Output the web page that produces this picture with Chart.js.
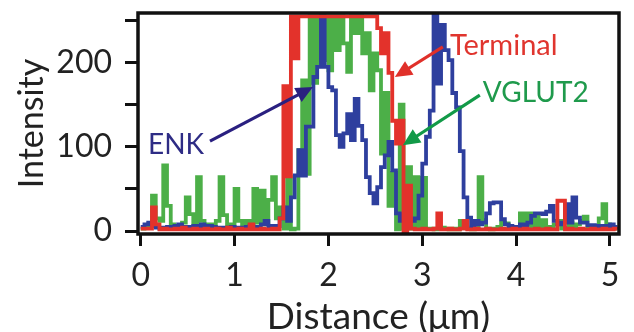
<!DOCTYPE html>
<html><head><meta charset="utf-8">
<script src="https://cdn.jsdelivr.net/npm/chart.js@4"></script>
<style>html,body{margin:0;padding:0;background:#fff}#wrap{width:634px;height:332px}</style>
</head><body><div id="wrap"><canvas id="c" width="634" height="332"></canvas></div>
<script>
// Distance sampling grid (µm)
const distance = [0,0.04,0.08,0.12,0.16,0.2,0.24,0.28,0.32,0.36,
0.4,0.44,0.48,0.52,0.56,0.6,0.64,0.68,0.72,0.76,
0.8,0.84,0.88,0.92,0.96,1,1.04,1.08,1.12,1.16,
1.2,1.24,1.28,1.32,1.36,1.4,1.44,1.48,1.52,1.56,
1.6,1.64,1.68,1.72,1.76,1.8,1.84,1.88,1.92,1.96,
2,2.04,2.08,2.12,2.16,2.2,2.24,2.28,2.32,2.36,
2.4,2.44,2.48,2.52,2.56,2.6,2.64,2.68,2.72,2.76,
2.8,2.84,2.88,2.92,2.96,3,3.04,3.08,3.12,3.16,
3.2,3.24,3.28,3.32,3.36,3.4,3.44,3.48,3.52,3.56,
3.6,3.64,3.68,3.72,3.76,3.8,3.84,3.88,3.92,3.96,
4,4.04,4.08,4.12,4.16,4.2,4.24,4.28,4.32,4.36,
4.4,4.44,4.48,4.52,4.56,4.6,4.64,4.68,4.72,4.76,
4.8,4.84,4.88,4.92,4.96,5,5.04,5.08];

// Terminal (red) intensity
const terminal = [3,3,3,28,8,2,3,2,2,3,
2,4,2,2,3,2,2,3,2,2,
3,2,2,4,2,2,3,2,2,8,
2,2,3,2,2,3,2,15,172,65,
255,205,255,255,255,255,255,255,255,255,
255,255,255,255,255,255,255,255,255,255,
255,255,255,241,211,235,188,131,104,131,
0,54,3,2,2,3,2,2,3,21,
2,2,3,2,2,3,12,2,2,3,
2,2,3,2,2,2,3,2,2,3,
2,2,3,2,2,3,2,2,3,2,
2,36,36,2,3,2,2,3,2,2,
3,2,2,3,2,2,3,2];

// ENK (blue) intensity
const enk = [5,8,10,6,4,3,4,5,4,6,
8,5,4,5,6,4,8,5,6,5,
4,3,4,3,5,4,3,4,5,6,
4,5,8,12,6,4,6,15,28,12,
40,66,96,66,124,124,183,195,255,195,
171,167,114,100,116,139,108,157,125,108,
64,45,33,52,76,90,106,72,21,12,
20,15,12,15,42,80,112,143,259,175,
245,215,203,164,147,95,40,16,5,12,
8,10,21,33,34,34,14,8,6,4,
5,8,6,10,18,21,21,20,23,30,
12,8,10,32,10,40,16,10,10,7,
7,6,5,6,6,8,5,5];

// VGLUT2 (green) intensity
const vglut2 = [3,5,8,42,15,12,78,30,8,5,
5,10,40,20,8,64,12,8,6,8,
12,64,19,8,5,50,12,8,12,5,
50,10,48,8,37,64,15,28,3,64,
2,3,96,179,68,255,176,255,203,255,
191,255,215,255,223,189,255,235,255,211,
235,167,211,191,92,164,30,69,2,150,
3,76,3,64,5,63,3,3,2,3,
4,3,2,3,2,12,5,3,2,3,
64,13,3,2,3,5,10,9,4,3,
5,21,8,21,5,17,4,13,5,5,
8,12,3,4,10,5,8,12,17,5,
3,4,15,32,8,3,3,3];

const xTicks = [0,1,2,3,4,5];
const yTicks = [0,50,100,150,200,250];
const yTickLabels = ['0','','100','','200',''];

const RED = '#e3322b', BLUE = '#2e3f9e', GREEN = '#4caf48';
const FONT = "'Lato', 'DejaVu Sans', sans-serif";

// annotation texts and arrows, in data units
const notes = [
  {text:'ENK', x:0.376, y:102, color:'#2e2c85', align:'center', size:28},
  {text:'Terminal', x:3.294, y:220, color:'#e0352e', align:'left', size:29},
  {text:'VGLUT2', x:3.645, y:164, color:'#1f9a4c', align:'left', size:28}
];
const arrows = [
  {x0:0.738, y0:106.8, x1:1.835, y1:171, color:'#2a2080'},
  {x0:3.219, y0:218.7, x1:2.708, y1:183, color:'#e0302a'},
  {x0:3.613, y0:161.5, x1:2.793, y1:102, color:'#129a48'}
];

const pts = arr => arr.map((v,i)=>({x:distance[i], y:v}));

const overlay = {
  id:'overlay',
  afterDatasetsDraw(chart){
    const {ctx, chartArea:a, scales:{x,y}} = chart;
    ctx.save();
    ctx.strokeStyle = '#111'; ctx.lineWidth = 3.5;
    ctx.strokeRect(a.left, a.top, a.right-a.left, a.bottom-a.top);
    arrows.forEach(ar=>{
      const X0=x.getPixelForValue(ar.x0), Y0=y.getPixelForValue(ar.y0);
      const X1=x.getPixelForValue(ar.x1), Y1=y.getPixelForValue(ar.y1);
      const ang=Math.atan2(Y1-Y0, X1-X0), L=17, W=8;
      ctx.strokeStyle=ar.color; ctx.fillStyle=ar.color; ctx.lineWidth=3.2;
      ctx.beginPath(); ctx.moveTo(X0,Y0);
      ctx.lineTo(X1-Math.cos(ang)*L*0.8, Y1-Math.sin(ang)*L*0.8); ctx.stroke();
      ctx.beginPath(); ctx.moveTo(X1,Y1);
      ctx.lineTo(X1-Math.cos(ang)*L - Math.sin(ang)*W, Y1-Math.sin(ang)*L + Math.cos(ang)*W);
      ctx.lineTo(X1-Math.cos(ang)*L + Math.sin(ang)*W, Y1-Math.sin(ang)*L - Math.cos(ang)*W);
      ctx.closePath(); ctx.fill();
    });
    ctx.textBaseline='middle';
    notes.forEach(n=>{
      ctx.font = n.size + 'px ' + FONT;
      ctx.fillStyle=n.color; ctx.textAlign=n.align;
      ctx.fillText(n.text, x.getPixelForValue(n.x), y.getPixelForValue(n.y));
    });
    ctx.restore();
  }
};

const ds = (label, data, color) => ({label, data:pts(data), borderColor:color, borderWidth:3.8,
  stepped:true, pointRadius:0, fill:false, borderJoinStyle:'miter', borderCapStyle:'butt'});

new Chart(document.getElementById('c'), {
  type:'line',
  data:{datasets:[ds('Terminal', terminal, RED), ds('ENK', enk, BLUE), ds('VGLUT2', vglut2, GREEN)]},
  options:{
    responsive:false, animation:false, devicePixelRatio:1,
    layout:{padding:{left:0,right:15,top:13,bottom:0}},
    plugins:{legend:{display:false}, tooltip:{enabled:false}},
    scales:{
      x:{type:'linear', min:-0.029, max:5.096,
        afterBuildTicks:s=>{s.ticks = xTicks.map(v=>({value:v}));},
        afterFit:s=>{s.height = 98; s.paddingLeft = 0; s.paddingRight = 0;},
        ticks:{font:{family:FONT,size:32}, color:'#222', padding:10, maxRotation:0, autoSkip:false,
          callback:v=>String(v)},
        grid:{drawOnChartArea:false, drawTicks:true, tickLength:12, tickWidth:3, tickColor:'#111'},
        border:{display:false},
        title:{display:true, text:'Distance (μm)', color:'#222', font:{family:FONT,size:37,lineHeight:0.8}, padding:0}
      },
      y:{type:'linear', min:-3.5, max:259,
        afterBuildTicks:s=>{s.ticks = yTicks.map(v=>({value:v}));},
        afterFit:s=>{s.width = 138; s.paddingTop = 0; s.paddingBottom = 0;},
        ticks:{font:{family:FONT,size:32}, color:'#222', padding:13, autoSkip:false,
          callback:(v)=>{const k=yTicks.indexOf(v); return k>=0?yTickLabels[k]:'';}},
        grid:{drawOnChartArea:false, drawTicks:true, tickLength:13, tickWidth:3, tickColor:'#111'},
        border:{display:false},
        title:{display:true, text:'Intensity', color:'#222', font:{family:FONT,size:34,lineHeight:0.8}, padding:{top:18,bottom:0}}
      }
    }
  },
  plugins:[overlay]
});
</script></body></html>
